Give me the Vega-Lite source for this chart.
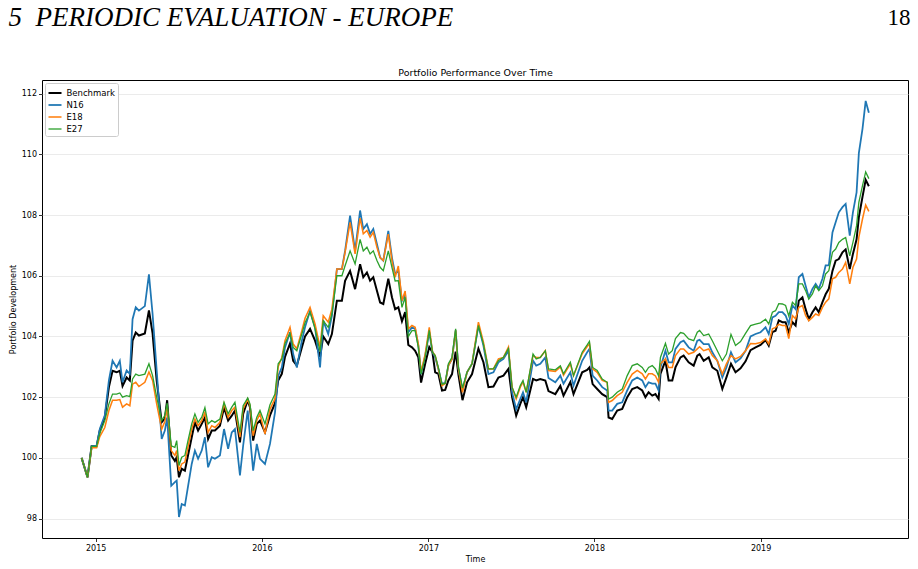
{
  "$schema": "https://vega.github.io/schema/vega-lite/v6.json",
  "width": 866,
  "height": 458,
  "autosize": {"type": "none"},
  "padding": {"left": 42, "top": 80, "right": 10, "bottom": 31},
  "background": "white",
  "config": {
    "font": "DejaVu Sans",
    "view": {"stroke": "#000000", "strokeWidth": 1},
    "axis": {
      "labelFont": "DejaVu Sans", "labelFontSize": 8, "labelColor": "#000000",
      "tickColor": "#000000", "tickSize": 3.5, "tickWidth": 0.8,
      "titleFont": "DejaVu Sans", "titleFontSize": 8, "titleFontWeight": "normal", "titleColor": "#000000",
      "domain": false, "gridColor": "#e6e6e6", "gridWidth": 0.8
    },
    "legend": {
      "orient": "none", "legendX": 3, "legendY": 3,
      "symbolType": "stroke", "symbolSize": 169,
      "labelFont": "DejaVu Sans", "labelFontSize": 8.5, "labelColor": "#000000",
      "fillColor": "white", "strokeColor": "#cccccc", "cornerRadius": 2,
      "padding": 2.5, "rowPadding": -3, "labelOffset": 4, "symbolOffset": 0
    }
  },
  "data": {
    "values": [
      {"Date": "2014-12-01", "Benchmark": 100, "N16": 100, "E18": 100, "E27": 100},
      {"Date": "2014-12-14", "Benchmark": 99.36, "N16": 99.36, "E18": 99.36, "E27": 99.36},
      {"Date": "2014-12-23", "Benchmark": 100.38, "N16": 100.38, "E18": 100.33, "E27": 100.38},
      {"Date": "2015-01-03", "Benchmark": 100.38, "N16": 100.4, "E18": 100.33, "E27": 100.38},
      {"Date": "2015-01-10", "Benchmark": 100.9, "N16": 100.95, "E18": 100.7, "E27": 100.8},
      {"Date": "2015-01-21", "Benchmark": 101.33, "N16": 101.4, "E18": 101.0, "E27": 101.23},
      {"Date": "2015-01-30", "Benchmark": 102.33, "N16": 102.55, "E18": 101.56, "E27": 101.78},
      {"Date": "2015-02-07", "Benchmark": 102.87, "N16": 103.2, "E18": 101.9, "E27": 102.1},
      {"Date": "2015-02-16", "Benchmark": 102.82, "N16": 102.98, "E18": 101.9, "E27": 102.1},
      {"Date": "2015-02-23", "Benchmark": 102.87, "N16": 103.2, "E18": 101.92, "E27": 102.14},
      {"Date": "2015-03-01", "Benchmark": 102.37, "N16": 102.49, "E18": 101.67, "E27": 102.0},
      {"Date": "2015-03-10", "Benchmark": 102.65, "N16": 102.88, "E18": 101.78, "E27": 102.05},
      {"Date": "2015-03-17", "Benchmark": 102.55, "N16": 102.77, "E18": 101.72, "E27": 102.02},
      {"Date": "2015-03-23", "Benchmark": 103.86, "N16": 104.57, "E18": 102.43, "E27": 102.6},
      {"Date": "2015-03-30", "Benchmark": 104.13, "N16": 104.96, "E18": 102.49, "E27": 102.76},
      {"Date": "2015-04-06", "Benchmark": 104.03, "N16": 104.85, "E18": 102.35, "E27": 102.71},
      {"Date": "2015-04-19", "Benchmark": 104.1, "N16": 105.0, "E18": 102.49, "E27": 102.76},
      {"Date": "2015-04-28", "Benchmark": 104.86, "N16": 106.05, "E18": 102.83, "E27": 103.1},
      {"Date": "2015-05-06", "Benchmark": 104.1, "N16": 104.74, "E18": 102.55, "E27": 102.71},
      {"Date": "2015-05-15", "Benchmark": 102.55, "N16": 102.88, "E18": 101.78, "E27": 102.0},
      {"Date": "2015-05-26", "Benchmark": 101.17, "N16": 100.62, "E18": 100.95, "E27": 101.23},
      {"Date": "2015-06-02", "Benchmark": 101.3, "N16": 100.9, "E18": 101.2, "E27": 101.4},
      {"Date": "2015-06-07", "Benchmark": 101.9, "N16": 101.33, "E18": 101.7, "E27": 101.8},
      {"Date": "2015-06-16", "Benchmark": 100.08, "N16": 99.08, "E18": 100.24, "E27": 100.4},
      {"Date": "2015-06-24", "Benchmark": 99.9, "N16": 99.2, "E18": 100.08, "E27": 100.35},
      {"Date": "2015-06-28", "Benchmark": 100.02, "N16": 99.25, "E18": 100.24, "E27": 100.57},
      {"Date": "2015-07-03", "Benchmark": 99.36, "N16": 98.05, "E18": 99.58, "E27": 99.75},
      {"Date": "2015-07-09", "Benchmark": 99.64, "N16": 98.48, "E18": 99.8, "E27": 100.02},
      {"Date": "2015-07-16", "Benchmark": 99.58, "N16": 98.43, "E18": 99.86, "E27": 100.08},
      {"Date": "2015-07-22", "Benchmark": 100.02, "N16": 98.98, "E18": 100.3, "E27": 100.51},
      {"Date": "2015-07-31", "Benchmark": 100.68, "N16": 99.8, "E18": 100.95, "E27": 101.12},
      {"Date": "2015-08-07", "Benchmark": 101.17, "N16": 100.24, "E18": 101.28, "E27": 101.45},
      {"Date": "2015-08-14", "Benchmark": 100.9, "N16": 99.97, "E18": 101.06, "E27": 101.17},
      {"Date": "2015-08-22", "Benchmark": 101.12, "N16": 100.24, "E18": 101.23, "E27": 101.34},
      {"Date": "2015-08-29", "Benchmark": 101.33, "N16": 100.68, "E18": 101.5, "E27": 101.66},
      {"Date": "2015-09-05", "Benchmark": 100.62, "N16": 99.69, "E18": 100.84, "E27": 101.12},
      {"Date": "2015-09-13", "Benchmark": 100.9, "N16": 100.02, "E18": 101.06, "E27": 101.23},
      {"Date": "2015-09-20", "Benchmark": 100.9, "N16": 99.97, "E18": 101.0, "E27": 101.17},
      {"Date": "2015-10-01", "Benchmark": 101.06, "N16": 100.08, "E18": 101.17, "E27": 101.28},
      {"Date": "2015-10-10", "Benchmark": 101.66, "N16": 100.95, "E18": 101.78, "E27": 101.83},
      {"Date": "2015-10-19", "Benchmark": 101.23, "N16": 100.3, "E18": 101.34, "E27": 101.45},
      {"Date": "2015-10-27", "Benchmark": 101.39, "N16": 100.84, "E18": 101.56, "E27": 101.67},
      {"Date": "2015-11-03", "Benchmark": 101.56, "N16": 100.95, "E18": 101.67, "E27": 101.83},
      {"Date": "2015-11-14", "Benchmark": 100.51, "N16": 99.42, "E18": 100.68, "E27": 100.84},
      {"Date": "2015-11-21", "Benchmark": 101.45, "N16": 100.4, "E18": 101.61, "E27": 101.72},
      {"Date": "2015-12-01", "Benchmark": 101.9, "N16": 101.56, "E18": 101.93, "E27": 101.97},
      {"Date": "2015-12-06", "Benchmark": 101.67, "N16": 100.73, "E18": 101.72, "E27": 101.78},
      {"Date": "2015-12-13", "Benchmark": 100.57, "N16": 99.58, "E18": 100.73, "E27": 100.9},
      {"Date": "2015-12-21", "Benchmark": 101.12, "N16": 100.46, "E18": 101.23, "E27": 101.34},
      {"Date": "2015-12-28", "Benchmark": 101.23, "N16": 99.97, "E18": 101.45, "E27": 101.56},
      {"Date": "2016-01-08", "Benchmark": 100.84, "N16": 99.8, "E18": 100.79, "E27": 101.12},
      {"Date": "2016-01-19", "Benchmark": 101.4, "N16": 100.46, "E18": 101.6, "E27": 101.75},
      {"Date": "2016-01-30", "Benchmark": 101.8, "N16": 101.5, "E18": 101.95, "E27": 102.1},
      {"Date": "2016-02-06", "Benchmark": 102.55, "N16": 102.7, "E18": 103.0, "E27": 103.1},
      {"Date": "2016-02-14", "Benchmark": 102.77, "N16": 102.98, "E18": 103.31, "E27": 103.26},
      {"Date": "2016-02-21", "Benchmark": 103.33, "N16": 103.64, "E18": 103.86, "E27": 103.77},
      {"Date": "2016-03-03", "Benchmark": 103.77, "N16": 104.14, "E18": 104.3, "E27": 104.1},
      {"Date": "2016-03-10", "Benchmark": 103.2, "N16": 103.42, "E18": 103.75, "E27": 103.64},
      {"Date": "2016-03-18", "Benchmark": 103.04, "N16": 102.98, "E18": 103.6, "E27": 103.53},
      {"Date": "2016-03-29", "Benchmark": 103.64, "N16": 103.86, "E18": 104.19, "E27": 104.08},
      {"Date": "2016-04-05", "Benchmark": 104.0, "N16": 104.3, "E18": 104.6, "E27": 104.45},
      {"Date": "2016-04-16", "Benchmark": 104.25, "N16": 104.85, "E18": 104.96, "E27": 104.8},
      {"Date": "2016-04-27", "Benchmark": 103.86, "N16": 104.3, "E18": 104.41, "E27": 104.25},
      {"Date": "2016-05-08", "Benchmark": 103.33, "N16": 102.98, "E18": 103.64, "E27": 103.5},
      {"Date": "2016-05-15", "Benchmark": 104.0, "N16": 104.52, "E18": 104.68, "E27": 104.52},
      {"Date": "2016-05-26", "Benchmark": 103.75, "N16": 104.08, "E18": 104.47, "E27": 104.3},
      {"Date": "2016-06-03", "Benchmark": 104.08, "N16": 104.68, "E18": 104.9, "E27": 104.74},
      {"Date": "2016-06-14", "Benchmark": 105.18, "N16": 106.22, "E18": 106.22, "E27": 106.0},
      {"Date": "2016-06-25", "Benchmark": 105.18, "N16": 106.22, "E18": 106.22, "E27": 106.0},
      {"Date": "2016-07-02", "Benchmark": 105.83, "N16": 106.82, "E18": 106.77, "E27": 106.33},
      {"Date": "2016-07-13", "Benchmark": 106.16, "N16": 107.98, "E18": 107.76, "E27": 106.82},
      {"Date": "2016-07-24", "Benchmark": 105.56, "N16": 106.82, "E18": 106.72, "E27": 106.39},
      {"Date": "2016-08-04", "Benchmark": 106.38, "N16": 108.15, "E18": 107.9, "E27": 107.2},
      {"Date": "2016-08-11", "Benchmark": 105.95, "N16": 107.54, "E18": 107.38, "E27": 106.82},
      {"Date": "2016-08-19", "Benchmark": 106.11, "N16": 107.7, "E18": 107.49, "E27": 106.94},
      {"Date": "2016-08-26", "Benchmark": 105.84, "N16": 107.38, "E18": 107.27, "E27": 106.72},
      {"Date": "2016-09-02", "Benchmark": 105.95, "N16": 107.54, "E18": 107.43, "E27": 106.82},
      {"Date": "2016-09-10", "Benchmark": 105.51, "N16": 107.05, "E18": 106.94, "E27": 106.5},
      {"Date": "2016-09-17", "Benchmark": 105.12, "N16": 106.6, "E18": 106.6, "E27": 106.28},
      {"Date": "2016-09-24", "Benchmark": 105.07, "N16": 106.5, "E18": 106.5, "E27": 106.17},
      {"Date": "2016-10-05", "Benchmark": 105.9, "N16": 107.48, "E18": 107.37, "E27": 106.82},
      {"Date": "2016-10-13", "Benchmark": 105.29, "N16": 106.6, "E18": 106.5, "E27": 106.28},
      {"Date": "2016-10-20", "Benchmark": 104.9, "N16": 106.06, "E18": 105.95, "E27": 105.83},
      {"Date": "2016-10-27", "Benchmark": 104.96, "N16": 106.17, "E18": 106.32, "E27": 105.84},
      {"Date": "2016-11-04", "Benchmark": 104.5, "N16": 105.18, "E18": 105.18, "E27": 104.96},
      {"Date": "2016-11-11", "Benchmark": 104.8, "N16": 105.4, "E18": 105.5, "E27": 105.29},
      {"Date": "2016-11-18", "Benchmark": 103.72, "N16": 104.14, "E18": 104.25, "E27": 104.0},
      {"Date": "2016-11-26", "Benchmark": 103.64, "N16": 104.3, "E18": 104.36, "E27": 104.19},
      {"Date": "2016-12-03", "Benchmark": 103.53, "N16": 104.25, "E18": 104.3, "E27": 104.19},
      {"Date": "2016-12-10", "Benchmark": 103.31, "N16": 103.7, "E18": 103.75, "E27": 103.64},
      {"Date": "2016-12-16", "Benchmark": 102.48, "N16": 102.76, "E18": 102.82, "E27": 102.76},
      {"Date": "2016-12-25", "Benchmark": 103.1, "N16": 103.37, "E18": 103.42, "E27": 103.31},
      {"Date": "2017-01-03", "Benchmark": 103.65, "N16": 104.14, "E18": 104.3, "E27": 104.2},
      {"Date": "2017-01-10", "Benchmark": 103.48, "N16": 103.48, "E18": 103.5, "E27": 103.48},
      {"Date": "2017-01-16", "Benchmark": 102.82, "N16": 103.31, "E18": 103.37, "E27": 103.37},
      {"Date": "2017-01-23", "Benchmark": 102.77, "N16": 102.93, "E18": 102.93, "E27": 102.98},
      {"Date": "2017-01-31", "Benchmark": 102.22, "N16": 102.43, "E18": 102.38, "E27": 102.43},
      {"Date": "2017-02-07", "Benchmark": 102.24, "N16": 102.48, "E18": 102.45, "E27": 102.45},
      {"Date": "2017-02-14", "Benchmark": 102.55, "N16": 103.04, "E18": 103.04, "E27": 103.1},
      {"Date": "2017-02-22", "Benchmark": 102.76, "N16": 103.26, "E18": 103.26, "E27": 103.31},
      {"Date": "2017-03-02", "Benchmark": 103.5, "N16": 104.2, "E18": 104.2, "E27": 104.25},
      {"Date": "2017-03-08", "Benchmark": 102.75, "N16": 102.95, "E18": 102.95, "E27": 103.0},
      {"Date": "2017-03-17", "Benchmark": 101.9, "N16": 102.25, "E18": 102.16, "E27": 102.3},
      {"Date": "2017-03-27", "Benchmark": 102.49, "N16": 102.82, "E18": 102.82, "E27": 102.82},
      {"Date": "2017-04-07", "Benchmark": 102.76, "N16": 103.1, "E18": 103.1, "E27": 103.1},
      {"Date": "2017-04-21", "Benchmark": 103.6, "N16": 104.36, "E18": 104.47, "E27": 104.36},
      {"Date": "2017-05-02", "Benchmark": 103.15, "N16": 103.7, "E18": 103.81, "E27": 103.75},
      {"Date": "2017-05-13", "Benchmark": 102.33, "N16": 102.76, "E18": 102.93, "E27": 102.93},
      {"Date": "2017-05-24", "Benchmark": 102.35, "N16": 102.82, "E18": 102.93, "E27": 102.93},
      {"Date": "2017-06-04", "Benchmark": 102.65, "N16": 103.15, "E18": 103.26, "E27": 103.2},
      {"Date": "2017-06-15", "Benchmark": 102.71, "N16": 103.26, "E18": 103.31, "E27": 103.31},
      {"Date": "2017-06-26", "Benchmark": 102.93, "N16": 103.53, "E18": 103.65, "E27": 103.6},
      {"Date": "2017-07-04", "Benchmark": 102.0, "N16": 102.16, "E18": 102.33, "E27": 102.33},
      {"Date": "2017-07-13", "Benchmark": 101.39, "N16": 101.6, "E18": 101.94, "E27": 102.0},
      {"Date": "2017-07-22", "Benchmark": 101.78, "N16": 101.94, "E18": 102.33, "E27": 102.38},
      {"Date": "2017-07-28", "Benchmark": 102.0, "N16": 102.16, "E18": 102.5, "E27": 102.55},
      {"Date": "2017-08-04", "Benchmark": 101.67, "N16": 101.83, "E18": 102.16, "E27": 102.16},
      {"Date": "2017-08-19", "Benchmark": 102.6, "N16": 103.2, "E18": 103.37, "E27": 103.42},
      {"Date": "2017-08-26", "Benchmark": 102.55, "N16": 103.04, "E18": 103.31, "E27": 103.26},
      {"Date": "2017-09-04", "Benchmark": 102.6, "N16": 103.1, "E18": 103.31, "E27": 103.31},
      {"Date": "2017-09-15", "Benchmark": 102.55, "N16": 103.31, "E18": 103.53, "E27": 103.53},
      {"Date": "2017-09-22", "Benchmark": 102.2, "N16": 102.63, "E18": 102.88, "E27": 102.93},
      {"Date": "2017-10-07", "Benchmark": 102.1, "N16": 102.49, "E18": 102.85, "E27": 102.9},
      {"Date": "2017-10-18", "Benchmark": 102.37, "N16": 102.71, "E18": 103.0, "E27": 103.03},
      {"Date": "2017-10-25", "Benchmark": 102.05, "N16": 102.44, "E18": 102.72, "E27": 102.77},
      {"Date": "2017-11-09", "Benchmark": 102.5, "N16": 102.82, "E18": 103.1, "E27": 103.15},
      {"Date": "2017-11-16", "Benchmark": 102.1, "N16": 102.38, "E18": 102.71, "E27": 102.71},
      {"Date": "2017-12-05", "Benchmark": 102.82, "N16": 103.2, "E18": 103.43, "E27": 103.48},
      {"Date": "2017-12-16", "Benchmark": 102.9, "N16": 103.48, "E18": 103.67, "E27": 103.72},
      {"Date": "2017-12-21", "Benchmark": 102.98, "N16": 103.59, "E18": 103.75, "E27": 103.84},
      {"Date": "2017-12-28", "Benchmark": 102.43, "N16": 102.71, "E18": 102.93, "E27": 102.98},
      {"Date": "2018-01-07", "Benchmark": 102.27, "N16": 102.55, "E18": 102.82, "E27": 102.88},
      {"Date": "2018-01-18", "Benchmark": 102.1, "N16": 102.33, "E18": 102.55, "E27": 102.6},
      {"Date": "2018-01-29", "Benchmark": 102.0, "N16": 102.22, "E18": 102.49, "E27": 102.49},
      {"Date": "2018-02-01", "Benchmark": 101.33, "N16": 101.56, "E18": 101.83, "E27": 101.94},
      {"Date": "2018-02-09", "Benchmark": 101.28, "N16": 101.56, "E18": 101.89, "E27": 102.0},
      {"Date": "2018-02-20", "Benchmark": 101.56, "N16": 101.78, "E18": 102.05, "E27": 102.16},
      {"Date": "2018-03-03", "Benchmark": 101.61, "N16": 101.83, "E18": 102.16, "E27": 102.27},
      {"Date": "2018-03-14", "Benchmark": 102.0, "N16": 102.22, "E18": 102.49, "E27": 102.71},
      {"Date": "2018-03-25", "Benchmark": 102.27, "N16": 102.55, "E18": 102.76, "E27": 103.04},
      {"Date": "2018-04-05", "Benchmark": 102.33, "N16": 102.65, "E18": 102.88, "E27": 103.1},
      {"Date": "2018-04-16", "Benchmark": 102.22, "N16": 102.55, "E18": 102.77, "E27": 102.98},
      {"Date": "2018-04-23", "Benchmark": 102.0, "N16": 102.33, "E18": 102.6, "E27": 102.82},
      {"Date": "2018-04-30", "Benchmark": 102.16, "N16": 102.49, "E18": 102.77, "E27": 102.98},
      {"Date": "2018-05-08", "Benchmark": 102.05, "N16": 102.45, "E18": 102.77, "E27": 103.04},
      {"Date": "2018-05-15", "Benchmark": 102.1, "N16": 102.45, "E18": 102.7, "E27": 102.93},
      {"Date": "2018-05-22", "Benchmark": 101.94, "N16": 102.22, "E18": 102.49, "E27": 102.7},
      {"Date": "2018-05-26", "Benchmark": 102.77, "N16": 102.98, "E18": 103.1, "E27": 103.31},
      {"Date": "2018-06-06", "Benchmark": 103.2, "N16": 103.53, "E18": 103.26, "E27": 103.77},
      {"Date": "2018-06-13", "Benchmark": 102.55, "N16": 103.15, "E18": 102.98, "E27": 103.42},
      {"Date": "2018-06-21", "Benchmark": 102.55, "N16": 103.15, "E18": 102.98, "E27": 103.53},
      {"Date": "2018-06-28", "Benchmark": 102.98, "N16": 103.59, "E18": 103.37, "E27": 103.93},
      {"Date": "2018-07-09", "Benchmark": 103.31, "N16": 103.81, "E18": 103.59, "E27": 104.13},
      {"Date": "2018-07-16", "Benchmark": 103.37, "N16": 103.86, "E18": 103.59, "E27": 104.1},
      {"Date": "2018-07-27", "Benchmark": 103.15, "N16": 103.64, "E18": 103.42, "E27": 103.92},
      {"Date": "2018-08-07", "Benchmark": 103.04, "N16": 103.53, "E18": 103.48, "E27": 103.86},
      {"Date": "2018-08-15", "Benchmark": 103.37, "N16": 103.86, "E18": 103.59, "E27": 104.14},
      {"Date": "2018-08-20", "Benchmark": 103.42, "N16": 103.89, "E18": 103.66, "E27": 104.2},
      {"Date": "2018-08-29", "Benchmark": 103.2, "N16": 103.75, "E18": 103.53, "E27": 104.03},
      {"Date": "2018-09-09", "Benchmark": 103.31, "N16": 103.75, "E18": 103.59, "E27": 104.08},
      {"Date": "2018-09-17", "Benchmark": 102.98, "N16": 103.48, "E18": 103.37, "E27": 103.86},
      {"Date": "2018-09-28", "Benchmark": 102.87, "N16": 103.2, "E18": 103.2, "E27": 103.53},
      {"Date": "2018-10-09", "Benchmark": 102.27, "N16": 102.65, "E18": 102.76, "E27": 103.2},
      {"Date": "2018-10-18", "Benchmark": 102.65, "N16": 102.98, "E18": 103.1, "E27": 103.42},
      {"Date": "2018-10-28", "Benchmark": 103.1, "N16": 103.48, "E18": 103.37, "E27": 104.07},
      {"Date": "2018-11-07", "Benchmark": 102.82, "N16": 103.15, "E18": 103.26, "E27": 103.7},
      {"Date": "2018-11-18", "Benchmark": 102.95, "N16": 103.28, "E18": 103.34, "E27": 103.83},
      {"Date": "2018-11-29", "Benchmark": 103.18, "N16": 103.53, "E18": 103.53, "E27": 104.1},
      {"Date": "2018-12-10", "Benchmark": 103.55, "N16": 104.0, "E18": 103.77, "E27": 104.36},
      {"Date": "2018-12-21", "Benchmark": 103.64, "N16": 104.08, "E18": 103.76, "E27": 104.41},
      {"Date": "2019-01-01", "Benchmark": 103.72, "N16": 104.14, "E18": 103.8, "E27": 104.45},
      {"Date": "2019-01-12", "Benchmark": 103.88, "N16": 104.3, "E18": 103.92, "E27": 104.57},
      {"Date": "2019-01-19", "Benchmark": 103.7, "N16": 104.08, "E18": 103.75, "E27": 104.41},
      {"Date": "2019-01-27", "Benchmark": 104.14, "N16": 104.63, "E18": 104.25, "E27": 104.8},
      {"Date": "2019-02-03", "Benchmark": 104.19, "N16": 104.68, "E18": 104.3, "E27": 104.85},
      {"Date": "2019-02-10", "Benchmark": 104.53, "N16": 104.8, "E18": 104.4, "E27": 105.08},
      {"Date": "2019-02-18", "Benchmark": 104.47, "N16": 104.8, "E18": 104.36, "E27": 105.07},
      {"Date": "2019-02-25", "Benchmark": 104.47, "N16": 104.69, "E18": 104.36, "E27": 105.02},
      {"Date": "2019-03-04", "Benchmark": 104.14, "N16": 104.41, "E18": 103.93, "E27": 104.68},
      {"Date": "2019-03-12", "Benchmark": 104.47, "N16": 105.02, "E18": 104.69, "E27": 105.13},
      {"Date": "2019-03-19", "Benchmark": 104.36, "N16": 104.9, "E18": 104.58, "E27": 105.02},
      {"Date": "2019-03-26", "Benchmark": 105.18, "N16": 105.95, "E18": 104.96, "E27": 105.73},
      {"Date": "2019-04-03", "Benchmark": 105.29, "N16": 106.06, "E18": 105.02, "E27": 105.73},
      {"Date": "2019-04-10", "Benchmark": 104.9, "N16": 105.67, "E18": 104.69, "E27": 105.51},
      {"Date": "2019-04-17", "Benchmark": 104.57, "N16": 105.29, "E18": 104.52, "E27": 105.23},
      {"Date": "2019-04-25", "Benchmark": 104.8, "N16": 105.57, "E18": 104.63, "E27": 105.4},
      {"Date": "2019-05-02", "Benchmark": 104.96, "N16": 105.73, "E18": 104.74, "E27": 105.67},
      {"Date": "2019-05-09", "Benchmark": 104.8, "N16": 105.57, "E18": 104.69, "E27": 105.51},
      {"Date": "2019-05-17", "Benchmark": 105.13, "N16": 105.9, "E18": 104.96, "E27": 105.67},
      {"Date": "2019-05-24", "Benchmark": 105.39, "N16": 106.34, "E18": 105.13, "E27": 106.06},
      {"Date": "2019-05-31", "Benchmark": 105.57, "N16": 106.34, "E18": 105.24, "E27": 106.17},
      {"Date": "2019-06-08", "Benchmark": 106.16, "N16": 107.43, "E18": 105.9, "E27": 106.77},
      {"Date": "2019-06-15", "Benchmark": 106.5, "N16": 107.76, "E18": 105.95, "E27": 106.88},
      {"Date": "2019-06-22", "Benchmark": 106.55, "N16": 108.09, "E18": 106.11, "E27": 107.1},
      {"Date": "2019-06-30", "Benchmark": 106.77, "N16": 108.26, "E18": 106.22, "E27": 107.2},
      {"Date": "2019-07-07", "Benchmark": 106.87, "N16": 108.37, "E18": 106.44, "E27": 107.26},
      {"Date": "2019-07-16", "Benchmark": 106.22, "N16": 107.32, "E18": 105.73, "E27": 106.66},
      {"Date": "2019-07-23", "Benchmark": 106.72, "N16": 108.09, "E18": 106.28, "E27": 107.1},
      {"Date": "2019-07-31", "Benchmark": 107.2, "N16": 108.75, "E18": 106.55, "E27": 107.65},
      {"Date": "2019-08-05", "Benchmark": 107.93, "N16": 110.04, "E18": 107.27, "E27": 108.42},
      {"Date": "2019-08-13", "Benchmark": 108.6, "N16": 110.84, "E18": 107.87, "E27": 108.97},
      {"Date": "2019-08-20", "Benchmark": 109.16, "N16": 111.76, "E18": 108.33, "E27": 109.42},
      {"Date": "2019-08-27", "Benchmark": 108.95, "N16": 111.37, "E18": 108.12, "E27": 109.2}
    ]
  },
  "layer": [
    {
      "transform": [{"fold": ["Benchmark", "N16", "E18", "E27"], "as": ["Series", "Value"]}],
      "mark": {"type": "line", "clip": true},
      "encoding": {
        "x": {
          "field": "Date", "type": "temporal",
          "scale": {"domain": ["2014-09-05", "2019-11-21"]},
          "axis": {"orient": "bottom", "title": "Time", "format": "%Y", "tickCount": {"interval": "year", "step": 1}, "grid": false, "labelPadding": 2.5, "titlePadding": 3, "labelFlush": false}
        },
        "y": {
          "field": "Value", "type": "quantitative",
          "scale": {"domain": [97.36, 112.45], "nice": false, "zero": false},
          "axis": {"orient": "left", "title": "Portfolio Development", "values": [98, 100, 102, 104, 106, 108, 110, 112], "grid": true, "labelPadding": 2, "titlePadding": 4}
        },
        "color": {
          "field": "Series", "type": "nominal",
          "scale": {"domain": ["Benchmark", "N16", "E18", "E27"], "range": ["#000000", "#1f77b4", "#ff7f0e", "#2ca02c"]},
          "legend": {"title": null}
        },
        "strokeWidth": {
          "field": "Series", "type": "nominal",
          "scale": {"domain": ["Benchmark", "N16", "E18", "E27"], "range": [2, 1.3, 1.3, 1.3]},
          "legend": {"title": null}
        }
      }
    },
    {
      "transform": [{"filter": "false"}],
      "mark": {"type": "line"},
      "encoding": {
        "x": {
          "field": "Date", "type": "temporal",
          "scale": {"domain": ["2014-09-05", "2019-11-21"]},
          "axis": {"orient": "top", "title": "Portfolio Performance Over Time", "labels": false, "ticks": false, "domain": false, "grid": false,
                   "titleFontSize": 9.5, "titleX": 433, "titleY": -5, "titleAlign": "center", "titleBaseline": "alphabetic", "titleAngle": 0}
        },
        "y": {
          "field": "Benchmark", "type": "quantitative",
          "scale": {"domain": [97.36, 112.45], "nice": false, "zero": false},
          "axis": {"orient": "right", "title": "18", "labels": false, "ticks": false, "domain": false, "grid": false,
                   "titleFont": "Liberation Serif", "titleFontSize": 23, "titleFontWeight": "normal", "titleAngle": 0,
                   "titleX": 2, "titleY": -56, "titleAlign": "right", "titleBaseline": "alphabetic"}
        }
      }
    },
    {
      "transform": [{"filter": "false"}],
      "mark": {"type": "line"},
      "encoding": {
        "x": {"field": "Date", "type": "temporal", "scale": {"domain": ["2014-09-05", "2019-11-21"]}, "axis": null},
        "y": {
          "field": "N16", "type": "quantitative",
          "scale": {"domain": [97.36, 112.45], "nice": false, "zero": false},
          "axis": {"orient": "left", "title": "5\u00a0\u00a0PERIODIC EVALUATION - EUROPE", "labels": false, "ticks": false, "domain": false, "grid": false,
                   "titleFont": "Liberation Serif", "titleFontSize": 27, "titleFontStyle": "italic", "titleFontWeight": "normal", "titleAngle": 0,
                   "titleX": -34, "titleY": -55, "titleAlign": "left", "titleBaseline": "alphabetic"}
        }
      }
    }
  ]
}
